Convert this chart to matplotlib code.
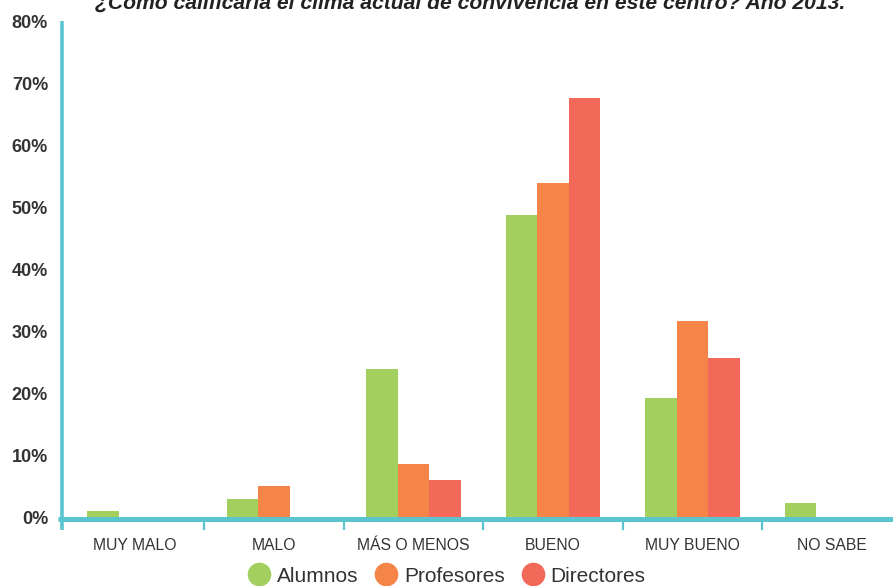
import matplotlib
matplotlib.use("Agg")
import matplotlib.pyplot as plt
from matplotlib.lines import Line2D
import numpy as np

categories = ["MUY MALO", "MALO", "MÁS O MENOS", "BUENO", "MUY BUENO", "NO SABE"]
alumnos = [1.0, 2.9, 23.9, 48.7, 19.2, 2.3]
profesores = [0.0, 5.0, 8.5, 53.9, 31.6, 0.0]
directores = [0.0, 0.0, 6.0, 67.6, 25.6, 0.0]
series_names = ["Alumnos", "Profesores", "Directores"]
colors = ["#A3CF5F", "#F48447", "#F2695A"]
yticks = [0, 10, 20, 30, 40, 50, 60, 70, 80]
title = "¿Cómo calificaría el clima actual de convivencia en este centro? Año 2013."

W, H = 893, 586
fig = plt.figure(figsize=(W / 100, H / 100), dpi=100)
ax_left, ax_right = 62, 899
ax_bottom, ax_top = 517, 21
ax = fig.add_axes([ax_left / W, 1 - ax_bottom / H, (ax_right - ax_left) / W, (ax_bottom - ax_top) / H])

x = np.arange(len(categories))
bw = 0.225
for i, (vals, col) in enumerate(zip([alumnos, profesores, directores], colors)):
    ax.bar(x + (i - 1) * bw, vals, width=bw, color=col, zorder=2, linewidth=0)

ax.set_xlim(-0.52, len(categories) - 0.52)
ax.set_ylim(0, 80)
for s in ax.spines.values():
    s.set_visible(False)

teal = "#5BC5CF"
ax.add_line(Line2D([-0.0045, 1.0], [-0.004, -0.004], transform=ax.transAxes, color=teal,
                   lw=3.6, clip_on=False, zorder=3, solid_capstyle="butt"))
ax.add_line(Line2D([0, 0], [-0.026, 1.0], transform=ax.transAxes, color=teal,
                   lw=2.6, clip_on=False, zorder=3, solid_capstyle="butt"))

ax.set_yticks(yticks)
ax.set_yticklabels([f"{v}%" for v in yticks], fontsize=13, fontweight="bold",
                   color="#333333", family="Liberation Sans")
ax.tick_params(axis="y", length=0, pad=10)

ax.set_xticks(x)
ax.set_xticklabels(categories, fontsize=11.3, color="#333333", family="Liberation Sans")
ax.tick_params(axis="x", length=0, pad=15)

for b in x[:-1] + 0.5:
    ax.plot([b, b], [-0.3, -1.9], color=teal, lw=1.6, clip_on=False, zorder=3)

fig.text(470 / W, 1 - 9 / H, title, ha="center", va="baseline", fontsize=15.2,
         fontweight="bold", fontstyle="italic", color="#222222", family="Liberation Sans")

handles = [Line2D([], [], marker="o", linestyle="none", markersize=16, markerfacecolor=c,
                  markeredgecolor=c) for c in colors]
leg = fig.legend(handles, series_names, loc="center", bbox_to_anchor=(446 / W, 1 - 576 / H),
                 ncol=3, frameon=False, handletextpad=0.25, columnspacing=0.75,
                 handlelength=1.2, prop={"family": "Liberation Sans", "size": 15})
for t in leg.get_texts():
    t.set_color("#333333")

fig.savefig("out.png", dpi=100)
